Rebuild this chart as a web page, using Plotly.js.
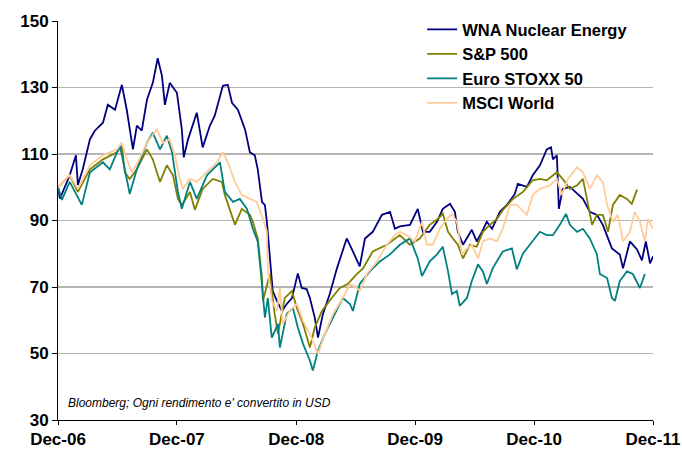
<!DOCTYPE html>
<html>
<head>
<meta charset="utf-8">
<script src="https://cdn.plot.ly/plotly-3.0.1.min.js"></script>
<style>
html,body{margin:0;padding:0;background:#fff;}
#chart{width:682px;height:450px;}
</style>
</head>
<body>
<div id="chart"></div>
<script>
// Time values: months elapsed since 31-Dec-2006
const wnaMonths = [0,0.2,1.21,1.82,2.02,2.52,3.23,3.73,4.54,5.04,5.75,6.45,6.96,7.56,7.97,8.47,8.97,9.58,10.08,10.49,10.79,11.29,12.0,12.5,12.71,13.11,14.02,14.62,15.33,15.83,16.64,17.14,17.55,18.15,18.86,19.36,19.87,20.17,20.57,20.87,21.08,21.38,21.68,22.08,22.59,23.09,23.6,24.2,24.6,25.1,25.41,25.92,26.22,26.72,27.43,28.13,28.64,29.14,29.75,30.45,30.96,31.76,32.67,33.48,33.98,34.49,35.5,36.3,36.81,37.51,38.22,38.82,39.53,40.03,40.34,40.84,41.75,42.25,42.76,43.26,43.77,44.57,45.28,46.08,46.39,47.3,47.9,48.61,49.31,49.72,49.92,50.32,50.52,50.92,51.63,52.34,52.94,53.65,54.35,54.96,55.46,55.87,56.67,56.98,57.68,58.39,58.89,59.29,59.7,60.0];
const wnaValues = [100,96.6,103.6,109.6,100.7,105.4,114.4,117,119.4,124.8,123.3,130.8,123.3,111.4,118.5,117,126.3,131.4,138.8,133.5,124.8,131.4,128.4,117.4,109,114.4,122.4,112,118.5,121.5,130.5,130.8,125.4,123.3,117.4,110.5,109.6,105.4,95.6,94.6,89.6,77.7,68.8,65.8,62.8,64.9,66.7,74.1,69.7,69.4,66.7,60.8,54.8,61.9,67.9,75.6,79.8,84.6,80.7,76.2,84.6,86.6,91.7,92.6,87.5,88.2,88.7,93.5,86.6,86.6,89.6,93.5,95,92.6,86.6,82.7,87.2,83.7,86.6,89.6,87.5,92.6,94.7,98,101,100.1,103.6,106.6,111.4,112,108.4,109.6,93.5,99.5,100.1,98,96.5,92.6,91.7,88.7,84.6,81.6,79.8,75.6,83.7,81.3,78,83.7,77.1,79.2];

const spMonths = [0,1.21,2.02,3.23,4.54,5.95,6.45,6.76,7.26,7.97,8.97,9.58,10.29,10.99,11.6,12.1,12.5,13.31,13.81,14.62,15.63,16.54,16.84,17.85,18.55,19.36,19.66,20.17,20.57,20.67,21.38,21.88,22.18,22.89,23.6,24.1,24.71,25.41,25.92,26.62,27.63,28.44,29.24,30.15,30.76,31.76,33.18,34.49,35.5,36.5,37.51,38.32,38.82,39.33,39.83,40.34,40.84,41.54,42.25,42.86,43.56,44.27,44.87,45.88,46.89,47.9,48.6,49.31,50.32,50.92,51.63,52.34,52.94,53.44,53.85,54.35,54.96,55.46,55.96,56.67,57.37,57.88,58.39];
const spValues = [100,103.6,98.6,105.4,108.4,110.5,112.5,104.5,102.5,105.4,111.4,108.4,101.6,106.6,103.6,96.5,94.6,98.6,93.2,99.5,102.5,101.6,97.7,88.7,93.5,91.7,89.6,84.6,72.7,65.8,73.9,61.9,55.9,66.7,68.8,63.7,58.9,51.8,57.8,62.8,66.7,69.7,70.9,73.9,75.6,80.7,82.7,85.6,82.7,84.6,88.7,90.5,92,86.6,84.6,82.7,78.6,82.7,82.1,86.6,88.7,90.5,93.1,96.5,98.6,102.1,102.5,102.1,104.5,102.5,99.5,100.6,102.5,94.7,88.7,91.7,91.7,86.6,94.7,97.7,96.5,95,99.3];

const stoxxMonths = [0,0.4,1.21,2.42,3.23,4.54,5.24,6.25,6.76,7.26,7.97,8.97,9.58,10.29,10.99,11.5,12.1,12.5,13.31,14.02,15.03,16.03,16.34,16.84,17.65,18.35,19.06,19.66,20.17,20.47,20.87,21.18,21.58,22.18,22.39,23.09,23.7,24.2,24.71,25.41,25.71,26.22,26.92,27.73,28.74,29.44,29.75,30.45,31.46,32.47,33.48,34.49,35.5,36.3,36.7,37.51,38.22,38.82,39.33,39.73,40.23,40.54,41.24,41.75,42.35,42.86,43.26,43.86,44.87,45.78,46.28,46.89,47.9,48.6,49.31,49.92,50.62,51.23,51.63,52.34,52.94,53.65,54.35,54.65,55.36,55.87,56.17,56.67,57.37,57.98,58.69,59.19];
const stoxxValues = [100,96.2,101.6,94.7,104.5,107.5,105.4,112.5,105.4,98,105.4,113.4,116.4,111.4,115.5,110.5,98.6,93.5,101.6,96.5,103.6,106.6,107.5,98.6,95.6,96.5,93.5,87.5,83.7,73.9,60.8,66.7,54.8,58.9,51.8,61.9,63.7,57.8,52.9,47.9,44.9,50.9,55.9,60.8,66.7,64.9,62.8,70.9,74.7,77.7,79.8,82.7,84.6,78.6,73.3,77.7,79.8,82.1,74.7,67.9,68.8,64.3,66.7,71.8,76.8,74.7,70.9,75.6,80.7,81.6,75.3,80.1,83.7,86.6,85.6,85.6,88.7,92,88.7,86.6,87.5,84.6,79.8,73.9,72.7,66.7,65.8,71.8,74.7,73.9,69.7,73.9];

const msciMonths = [0,1.21,2.02,3.23,4.54,5.95,6.45,6.96,7.46,8.07,8.97,9.98,10.59,11.29,11.8,12.3,12.6,13.31,14.02,15.03,16.03,16.64,17.14,17.85,18.55,19.36,20.07,20.67,21.08,21.18,21.58,22.08,22.39,22.69,23.39,24.1,24.71,25.41,26.22,26.92,27.73,28.74,29.44,30.15,30.45,31.16,32.17,33.18,33.98,34.49,35.19,36.0,36.7,37.21,37.81,38.52,39.23,39.73,40.23,40.74,41.24,41.75,42.35,42.86,43.56,44.27,44.87,45.58,46.28,47.29,47.9,48.6,49.61,50.32,50.82,51.43,52.34,52.94,53.65,54.35,54.96,55.36,55.96,56.47,56.97,57.68,58.18,58.69,59.19,59.49,60.0];
const msciValues = [100,103.6,99.5,106.6,109.6,111.4,113.4,108.4,104.5,107.5,113.4,117.4,113.4,114.4,109.6,102.5,99.5,102.5,101.6,104.5,107.5,110.5,107.5,101.6,97.7,96.5,95.6,90.5,86.6,75.6,65.8,62.8,69.7,58.9,62.8,64.9,59.8,55.9,49.9,55.9,61.9,66.7,70.9,69.7,68.8,73.9,77.7,82.7,85.6,86.6,85.6,83.7,89.6,82.7,82.7,87.5,90.5,92,89.6,79.8,81.6,82.7,78.6,83.7,84.6,83.7,87.5,94.7,94.7,91.7,97.7,99.5,100.6,102.5,97.7,102.5,106,104.5,99.5,103.6,101.6,94.7,89.6,91.7,83.7,86.6,92.6,89.6,83.7,90.5,87.5];

const seriesNames = ['WNA Nuclear Energy','S&P 500','Euro STOXX 50','MSCI World'];
const seriesColors = ['#000080','#808000','#008080','#FFCC99'];
const tickDates = ['2006-12-31','2007-12-31','2008-12-31','2009-12-31','2010-12-31','2011-12-31'];
const tickLabels = ['Dec-06','Dec-07','Dec-08','Dec-09','Dec-10','Dec-11'];
const yTicks = [30,50,70,90,110,130,150];
const noteText = "Bloomberg; Ogni rendimento e' convertito in USD";

const baseMs = Date.UTC(2006,11,31);
function toDates(months){
  return months.map(m => new Date(baseMs + m*30.4375*86400000).toISOString().slice(0,10));
}

const allMonths = [wnaMonths, spMonths, stoxxMonths, msciMonths];
const allValues = [wnaValues, spValues, stoxxValues, msciValues];

const traces = seriesNames.map((name,i)=>({
  type:'scatter', mode:'lines', name:name,
  x: toDates(allMonths[i]), y: allValues[i],
  line:{color:seriesColors[i], width:1.8}
}));

const font = 'Liberation Sans, Arial, sans-serif';
const layout = {
  width:682, height:450,
  margin:{l:58, r:29, t:18, b:30},
  paper_bgcolor:'#ffffff', plot_bgcolor:'#ffffff',
  showlegend:true,
  legend:{x:0.612, xanchor:'left', y:1.022, yanchor:'top', bgcolor:'rgba(0,0,0,0)',
    font:{family:font, size:16.5, weight:'bold', color:'#000'}, tracegroupgap:0, itemwidth:30},
  xaxis:{type:'date', range:[tickDates[0], tickDates[tickDates.length-1]],
    tickmode:'array', tickvals:tickDates, ticktext:tickLabels,
    showgrid:false, zeroline:false, showline:true, linecolor:'#000', linewidth:1,
    ticks:'outside', ticklen:4, tickcolor:'#000',
    tickfont:{family:font, size:17, weight:'bold', color:'#000'}},
  yaxis:{range:[30,150], tickmode:'array', tickvals:yTicks,
    showgrid:true, gridcolor:'#b4b4b4', gridwidth:1.2, zeroline:false,
    showline:true, linecolor:'#000', linewidth:1,
    ticks:'outside', ticklen:5, tickcolor:'#000',
    tickfont:{family:font, size:17, weight:'bold', color:'#000'}},
  annotations:[{text:noteText, xref:'paper', yref:'paper', x:0.014, y:0.043,
    xanchor:'left', yanchor:'middle', showarrow:false,
    font:{family:font, size:12, style:'italic', color:'#000'}}]
};

Plotly.newPlot('chart', traces, layout, {displayModeBar:false, staticPlot:true});
</script>
</body>
</html>
